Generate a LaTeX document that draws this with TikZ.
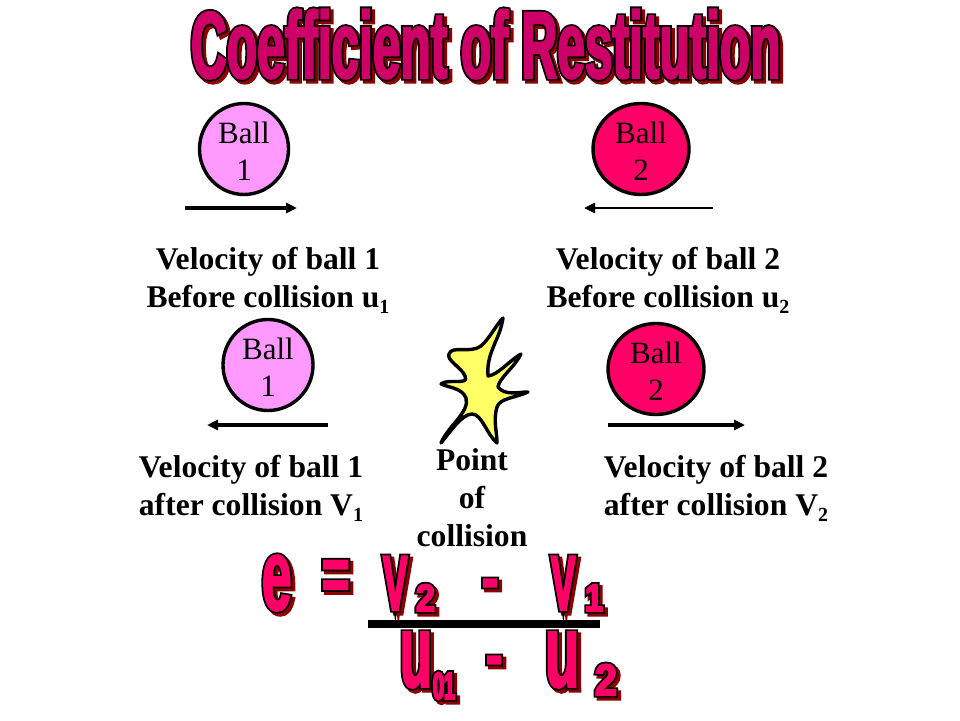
\documentclass[tikz,border=0pt]{standalone}
\usepackage{fontspec}
\setmainfont{Liberation Serif}
\newfontfamily\wafont{Liberation Sans}
\usetikzlibrary{shapes.geometric,arrows.meta}
\newcommand{\wastyle}[3]{\special{pdf:code #1 RG #2 rg 2 Tr #3 w}}
\newcommand{\waoff}{\special{pdf:code 0 Tr}}
% name, x, baseline y, size, stretch, fill rgb, text
\newcommand{\wa}[7]{\node[wabox] (#1) at (#2,#3) {\wafont\bfseries\fontsize{#4}{#4}\selectfont\addfontfeature{FakeStretch=#5}%
\rlap{\kern3pt\raisebox{-3pt}{\wastyle{.55 0 0}{.55 0 0}{5.4}#7\waoff}}%
\rlap{\wastyle{0 0 0}{0 0 0}{5.4}#7\waoff}%
\wastyle{#6}{#6}{1.8}#7\waoff};}
\newcommand{\lowsub}[1]{\raisebox{-6pt}{\fontsize{20}{20}\selectfont #1}}
\definecolor{ballone}{HTML}{FF99FF}
\definecolor{balltwo}{HTML}{FF0066}
\definecolor{burst}{HTML}{FFFF66}
\tikzset{
  wabox/.style={anchor=base west,inner sep=0pt,outer sep=0pt},
  ballshape/.style={ellipse,draw=black,line width=3.4pt,inner sep=0pt,minimum width=#1,minimum height=91pt,align=center,font=\fontsize{31}{37}\selectfont,text=black},
  velarrow/.style={line width=#1,-{Triangle[length=11pt,width=10pt]}},
  caption/.style={align=center,inner sep=0pt,font=\bfseries\fontsize{31.6}{38}\selectfont}
}
\begin{document}
\begin{tikzpicture}[x=1pt,y=-1pt]
\useasboundingbox (0,0) rectangle (960,720);
\fill[white] (0,0) rectangle (960,720);
\wa{title}{191}{78}{95}{.522}{.8 0 .4}{Coefficient of Restitution}

\node[ballshape=89pt,fill=ballone] (b1) at (244,149) {\strut Ball\\1};
\node[ballshape=96pt,fill=balltwo] (b2) at (641,149) {\strut Ball\\2};
\node[ballshape=90pt,fill=ballone] (b3) at (268,365) {\strut Ball\\1};
\node[ballshape=96pt,fill=balltwo] (b4) at (656,369) {\strut Ball\\2};

\coordinate (a1s) at (185,208); \coordinate (a1e) at (297,208);
\coordinate (a2s) at (713,208); \coordinate (a2e) at (584,208);
\coordinate (a3s) at (328,425); \coordinate (a3e) at (207,425);
\coordinate (a4s) at (608,425); \coordinate (a4e) at (745,425);
\draw[velarrow=3.6pt] (a1s) -- (a1e);
\draw[velarrow=2.6pt] (a2s) -- (a2e);
\draw[velarrow=3.2pt] (a3s) -- (a3e);
\draw[velarrow=3.2pt] (a4s) -- (a4e);

\node[caption] (c1) at (268,280) {Velocity of ball 1\\Before collision u\lowsub{1}};
\node[caption] (c2) at (668,280) {Velocity of ball 2\\Before collision u\lowsub{2}};
\node[caption] (c3) at (251,488) {Velocity of ball 1\\after collision V\lowsub{1}};
\node[caption] (c4) at (716,488) {Velocity of ball 2\\after collision V\lowsub{2}};
\node[caption] (c5) at (472,498) {Point\\of\\collision};

\draw[fill=burst,line width=3.4pt,line join=round]
 (503,318) .. controls (500,340) and (486,352) .. (488,376)
 .. controls (498,375) and (510,360) .. (521,354)
 .. controls (514,368) and (499,378) .. (498,387)
 .. controls (505,396) and (518,392) .. (528,392)
 .. controls (515,398) and (500,398) .. (497,407)
 .. controls (493,420) and (497,432) .. (497,443)
 .. controls (487,435) and (482,414) .. (472,414)
 .. controls (462,414) and (450,432) .. (441,443)
 .. controls (448,426) and (470,412) .. (466,398)
 .. controls (462,388) and (450,388) .. (441,384)
 .. controls (448,378) and (470,386) .. (465,376)
 .. controls (462,368) and (446,360) .. (449,354)
 .. controls (452,345) and (470,354) .. (481,346)
 .. controls (490,338) and (496,325) .. (503,318) -- cycle;

\wa{e}{262}{610}{102}{.52}{1 0 .4}{e}
\wa{eq}{322}{600}{76}{.62}{1 0 .4}{=}
\wa{v2}{383}{610}{78}{.47}{1 0 .4}{V}
\wa{s2}{416}{611}{38}{.9}{1 0 .4}{2}
\wa{m1}{482}{599}{62}{.8}{1 0 .4}{-}
\wa{v1}{551}{610}{78}{.47}{1 0 .4}{V}
\wa{s1}{585}{611}{38}{.85}{1 0 .4}{1}
\wa{u1}{400}{687}{104}{.5}{1 0 .4}{u}
\wa{s01}{433}{699}{38}{.52}{1 0 .4}{01}
\wa{m2}{486}{676}{62}{.8}{1 0 .4}{-}
\wa{u2}{545}{687}{104}{.54}{1 0 .4}{u}
\wa{s3}{595}{695}{44}{.9}{1 0 .4}{2}

\coordinate (barl) at (368,624); \coordinate (barr) at (600,624);
\draw[line width=8pt] (barl) -- (barr);
\end{tikzpicture}
\end{document}
